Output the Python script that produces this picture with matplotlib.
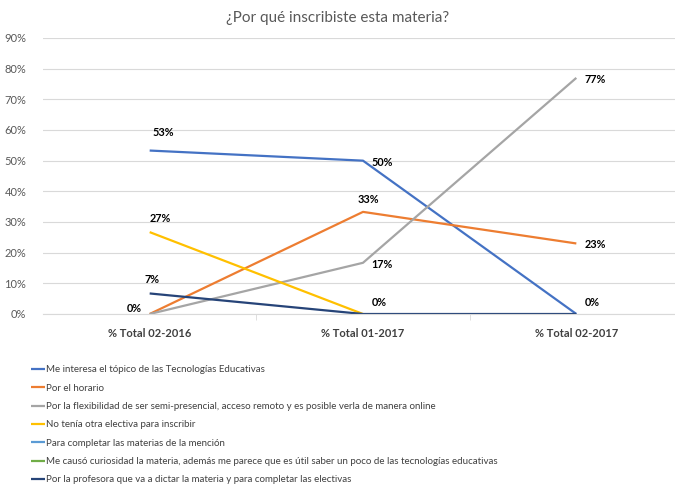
import numpy as np
import matplotlib.pyplot as plt

# datos
categorias = ['% Total 02-2016', '% Total 01-2017', '% Total 02-2017']
series = [
    'Me interesa el tópico de las Tecnologías Educativas',
    'Por el horario',
    'Por la flexibilidad de ser semi-presencial, acceso remoto y es posible verla de manera online',
    'No tenía otra electiva para inscribir',
    'Para completar las materias de la mención',
    'Me causó curiosidad la materia, además me parece que es útil saber un poco de las tecnologías educativas',
    'Por la profesora que va a dictar la materia y para completar las electivas',
]
interesa = [0.533, 0.50, 0.0]
horario = [0.0, 0.333, 0.23]
flexibilidad = [0.0, 0.167, 0.77]
no_electiva = [0.267, 0.0, np.nan]
mencion = [np.nan, np.nan, np.nan]
curiosidad = [np.nan, np.nan, np.nan]
profesora = [0.067, 0.0, 0.0]
valores = [interesa, horario, flexibilidad, no_electiva, mencion, curiosidad, profesora]
colores = ['#4472C4', '#ED7D31', '#A5A5A5', '#FFC000', '#5B9BD5', '#70AD47', '#264478']

# etiquetas: (serie, categoria, texto, dx, dy, ha)
etiquetas = [
    (0, 0, '53%', 2, 13, 'left'), (0, 1, '50%', 6, -1, 'left'), (0, 2, '0%', 6, 8, 'left'),
    (1, 1, '33%', -4, 9, 'left'), (1, 2, '23%', 6, -1, 'left'), (1, 0, '0%', -6, 4, 'right'),
    (2, 1, '17%', 6, -1, 'left'), (2, 2, '77%', 6, -1, 'left'),
    (3, 0, '27%', 0, 10, 'left'), (3, 1, '0%', 6, 8, 'left'),
    (6, 0, '7%', -4, 10, 'left'),
]

plt.rcParams['font.family'] = ['Lato', 'DejaVu Sans']

fig = plt.figure(figsize=(6.75, 4.88), dpi=100)
ax = fig.add_axes([43/675, (488-314)/488, 640/675, 276/488])

x = np.arange(len(categorias))
lineas = []
for nombre, v, c in zip(series, valores, colores):
    l, = ax.plot(x, v, color=c, lw=1.6, label=nombre, solid_capstyle='butt')
    lineas.append(l)

for s, k, txt, dx, dy, ha in etiquetas:
    ax.annotate(txt, (x[k], valores[s][k]), xytext=(dx, dy), textcoords='offset points',
                ha=ha, va='center', fontsize=7.8, fontweight='bold', color='#000000')

ax.set_xlim(-0.5, 2.5)
ax.set_ylim(0, 0.9)
ax.set_yticks(np.arange(0, 0.91, 0.1))
ax.set_yticklabels(['{:.0f}%'.format(t*100) for t in np.arange(0, 0.91, 0.1)])
ax.set_xticks(x)
ax.set_xticklabels(categorias, fontweight='bold', fontsize=8, color='#404040')
ax.set_xticks([0.5, 1.5], minor=True)
ax.tick_params(axis='x', which='major', length=0, pad=10)
ax.tick_params(axis='x', which='minor', length=4, color='#D9D9D9')
ax.tick_params(axis='y', length=0, labelsize=8, labelcolor='#595959', pad=12)
ax.grid(axis='y', color='#D9D9D9', lw=0.8)
ax.set_axisbelow(True)
for lado in ['top', 'right', 'left']:
    ax.spines[lado].set_visible(False)
ax.spines['bottom'].set_color('#D9D9D9')

fig.text(0.5, 0.963, '¿Por qué inscribiste esta materia?', ha='center', va='center',
         fontsize=11, color='#595959')

fig.legend(handles=lineas, loc='upper left', bbox_to_anchor=(0.04, 0.259), ncol=1,
           frameon=False, fontsize=7, handlelength=1.5, handletextpad=0.1,
           labelspacing=0.96, borderaxespad=0, labelcolor='#404040')

fig.savefig('out.png', dpi=100)
